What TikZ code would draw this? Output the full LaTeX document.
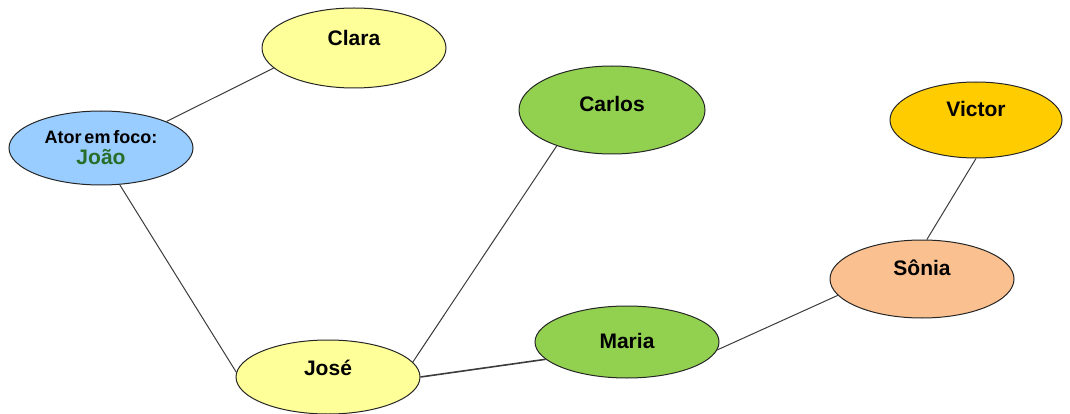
\documentclass[tikz,border=0pt]{standalone}
\usepackage{fontspec}
\setmainfont{Liberation Sans}
\usetikzlibrary{shapes.geometric}
\definecolor{yel}{HTML}{FFFF99}
\definecolor{blu}{HTML}{99CCFF}
\definecolor{grn}{HTML}{92D050}
\definecolor{gold}{HTML}{FFCC00}
\definecolor{peach}{HTML}{FAC090}
\definecolor{jgreen}{RGB}{40,110,40}
\definecolor{edge}{RGB}{60,60,60}
\tikzset{
  person/.style={ellipse, draw=black!85, line width=1pt, inner sep=0pt},
  nm/.style={font=\fontsize{21}{24}\selectfont\bfseries, text=black},
  link/.style={draw=edge, line width=1pt},
}
\begin{document}
\begin{tikzpicture}[x=1pt,y=-1pt]
\useasboundingbox (0,0) rectangle (1070,414);
\node[person, fill=yel, minimum width=184, minimum height=80,
  label={[nm, yshift=10pt]center:Clara}] (clara) at (354,48) {};
\node[person, fill=blu, minimum width=184, minimum height=74, align=center,
  font=\fontsize{18}{24}\selectfont\bfseries] (joao) at (101,148)
  {\spaceskip=0.16em Ator em foco:\\[-3pt] {\fontsize{21}{24}\selectfont\textcolor{jgreen}{João}}};
\node[person, fill=grn, minimum width=186, minimum height=88,
  label={[nm, yshift=6pt]center:Carlos}] (carlos) at (612,110) {};
\node[person, fill=gold, minimum width=172, minimum height=76,
  label={[nm, yshift=11pt]center:Victor}] (victor) at (976,120) {};
\node[person, fill=peach, minimum width=184, minimum height=78,
  label={[nm, yshift=11pt]center:Sônia}] (sonia) at (922,279) {};
\node[person, fill=grn, minimum width=184, minimum height=72,
  label={[nm, yshift=1pt]center:Maria}] (maria) at (627,342) {};
\node[person, fill=yel, minimum width=184, minimum height=74,
  label={[nm, yshift=9pt]center:José}] (jose) at (328,377) {};
\draw[link] (clara.194) -- (joao.22);
\draw[link] (joao.297) -- (jose.177);
\draw[link] (jose.10) -- (carlos.213);
\draw[link, line width=1.6pt] (jose.0) -- (maria.192);
\draw[link] (maria.355) -- (sonia.191);
\draw[link] (sonia.83) -- (victor.270);
\end{tikzpicture}
\end{document}
